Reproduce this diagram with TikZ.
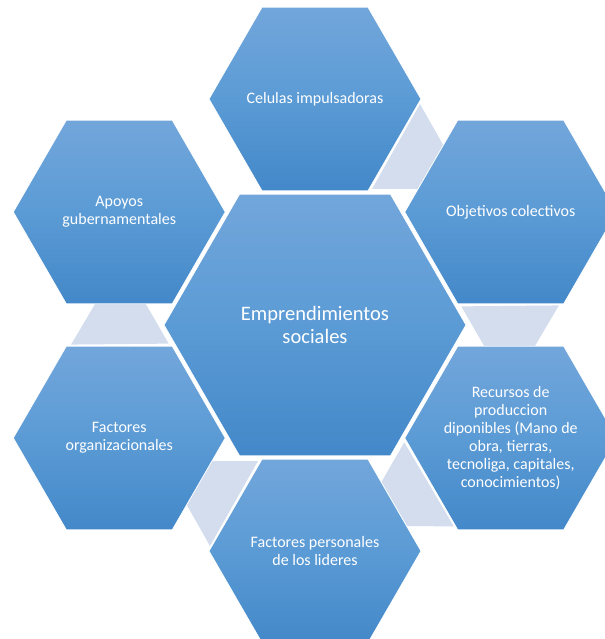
\documentclass[tikz,border=0pt]{standalone}
\usepackage{fontspec}
\setmainfont{Carlito}

\definecolor{hextop}{RGB}{114,166,219}
\definecolor{hexmid}{RGB}{91,155,213}
\definecolor{hexbot}{RGB}{67,136,201}
\definecolor{bandfill}{RGB}{211,221,238}

\begin{document}
\begin{tikzpicture}[x=0.75pt,y=0.75pt,
    hexfill/.style={top color=hextop, bottom color=hexbot, middle color=hexmid,
        draw=white, line width=0.6pt},
    hextext/.style={text=white, align=center, inner sep=0pt},
    smalltext/.style={hextext, font=\fontsize{12}{13.5}\selectfont},
    bigtext/.style={hextext, font=\fontsize{15.4}{16.8}\selectfont}]

    \useasboundingbox (-315,-314) rectangle (289,325); % page size of the reference

    % Parameters
    \def\dist{226} % distance centre -> outer hexagons
    \def\rsmall{106} % radius of outer hexagons
    \def\rbig{151} % radius of centre hexagon

    % Light bands between neighbouring hexagons
    \foreach \k in {0,...,4} {
        \fill[bandfill, rotate=-60*\k] (105,221) -- (57,136) -- (153,136) -- cycle;
    }

    % Outer hexagons
    \foreach \ang in {90,30,-30,-90,-150,150} {
        \path[hexfill] (\ang:\dist) ++(0:\rsmall) -- ++(120:\rsmall) -- ++(180:\rsmall)
            -- ++(240:\rsmall) -- ++(300:\rsmall) -- ++(0:\rsmall) -- cycle;
    }
    \node[smalltext] (celulas) at (90:\dist) {Celulas impulsadoras};
    \node[smalltext] (objetivos) at (30:\dist) {Objetivos colectivos};
    \node[smalltext] (recursos) at (-30:\dist) {Recursos de\\ produccion\\ diponibles (Mano de\\ obra, tierras,\\ tecnoliga, capitales,\\ conocimientos)};
    \node[smalltext] (personales) at (-90:\dist) {Factores personales\\ de los lideres};
    \node[smalltext] (organizacionales) at (-150:\dist) {Factores\\ organizacionales};
    \node[smalltext] (apoyos) at (150:\dist) {Apoyos\\ gubernamentales};

    % Centre hexagon
    \path[hexfill] (0:\rbig) -- ++(120:\rbig) -- ++(180:\rbig) -- ++(240:\rbig)
        -- ++(300:\rbig) -- ++(0:\rbig) -- cycle;
    \node[bigtext] (emprendimientos) at (0,0) {Emprendimientos\\ sociales};
\end{tikzpicture}
\end{document}
